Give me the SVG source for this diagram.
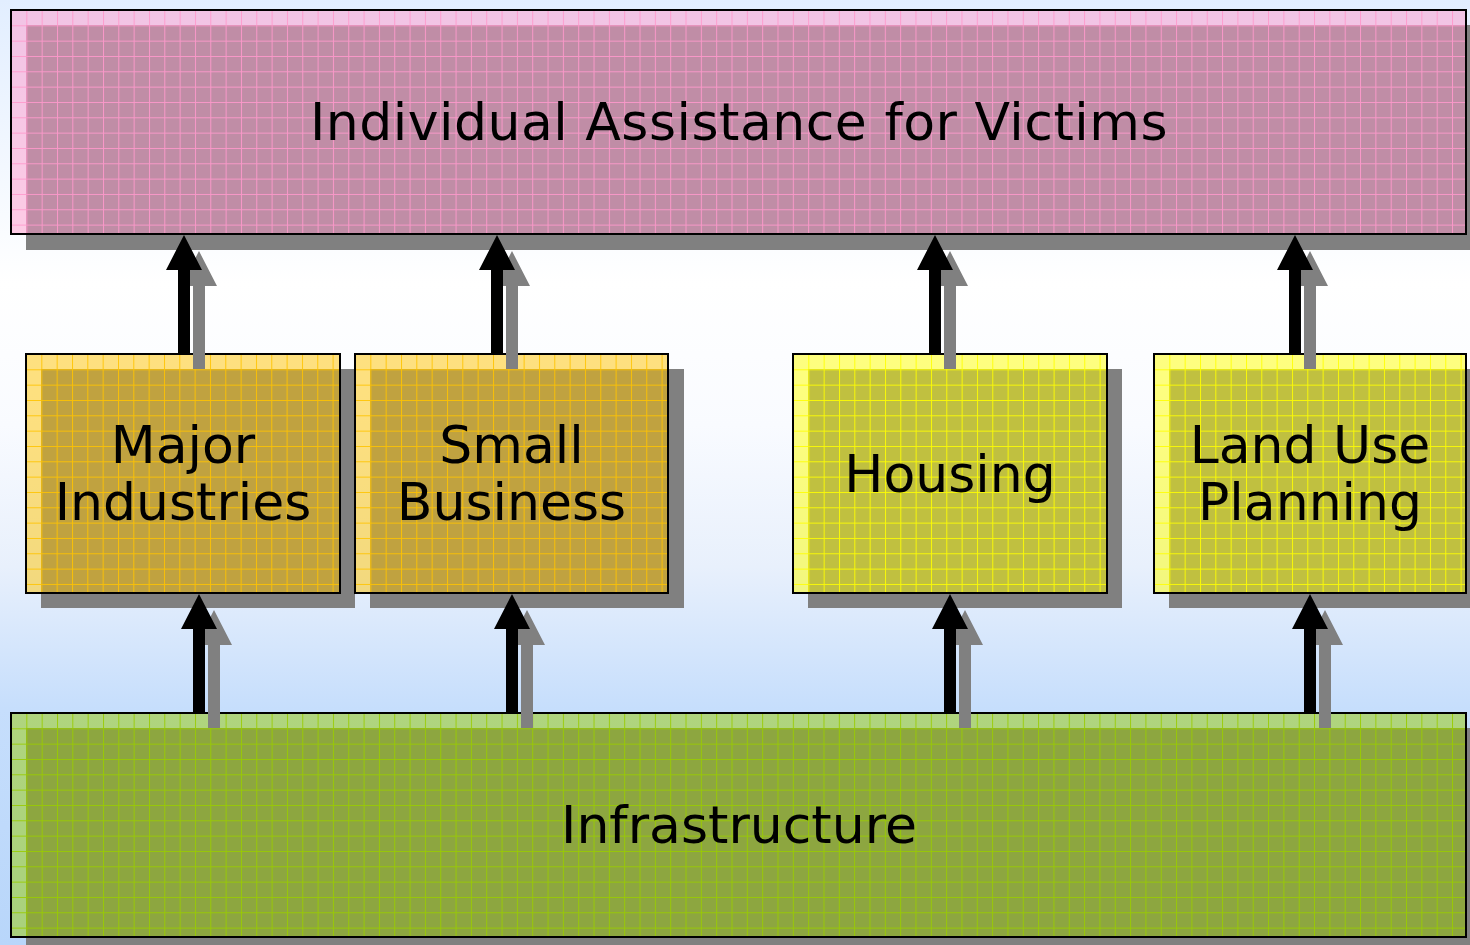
<svg xmlns="http://www.w3.org/2000/svg" width="1470" height="945" viewBox="0 0 1470 945">
<defs>
<linearGradient id="bg" x1="0" y1="0" x2="0" y2="945" gradientUnits="userSpaceOnUse">
<stop offset="0" stop-color="#e2eeff"/>
<stop offset="0.3" stop-color="#ffffff"/>
<stop offset="0.45" stop-color="#f9fbff"/>
<stop offset="0.6" stop-color="#e8f0fc"/>
<stop offset="0.75" stop-color="#c6defc"/>
<stop offset="1" stop-color="#b8d6fa"/>
</linearGradient>
<pattern id="gPink" patternUnits="userSpaceOnUse" x="11" y="10" width="15.33" height="15.33"><path d="M0.5 0V15.33M0 0.5H15.33" stroke="#ff99cc" stroke-width="1" fill="none" opacity="0.9"/></pattern>
<pattern id="gGold1" patternUnits="userSpaceOnUse" x="26" y="354" width="15.33" height="15.33"><path d="M0.5 0V15.33M0 0.5H15.33" stroke="#ffc400" stroke-width="1" fill="none" opacity="0.9"/></pattern>
<pattern id="gGold2" patternUnits="userSpaceOnUse" x="355" y="354" width="15.33" height="15.33"><path d="M0.5 0V15.33M0 0.5H15.33" stroke="#ffc400" stroke-width="1" fill="none" opacity="0.9"/></pattern>
<pattern id="gYel1" patternUnits="userSpaceOnUse" x="793" y="354" width="15.33" height="15.33"><path d="M0.5 0V15.33M0 0.5H15.33" stroke="#ffff00" stroke-width="1" fill="none" opacity="0.9"/></pattern>
<pattern id="gYel2" patternUnits="userSpaceOnUse" x="1154" y="354" width="15.33" height="15.33"><path d="M0.5 0V15.33M0 0.5H15.33" stroke="#ffff00" stroke-width="1" fill="none" opacity="0.9"/></pattern>
<pattern id="gGreen" patternUnits="userSpaceOnUse" x="11" y="713" width="15.33" height="15.33"><path d="M0.5 0V15.33M0 0.5H15.33" stroke="#99cc00" stroke-width="1" fill="none" opacity="0.9"/></pattern>
</defs>
<style>
.shadow{fill:#808080}
.fill{fill-opacity:0.5}
.border{fill:none;stroke:#000;stroke-width:2}
.label{font-family:"DejaVu Sans",Verdana,sans-serif;font-size:52px;fill:#000;text-anchor:middle}
.arrow{fill:#000}
.ashadow{fill:#808080}
</style>
<rect x="0" y="0" width="1470" height="945" fill="url(#bg)"/>

<g id="shadows">
<rect class="shadow" x="26" y="25" width="1456" height="225"/>
<rect class="shadow" x="41" y="369" width="314" height="239"/>
<rect class="shadow" x="370" y="369" width="314" height="239"/>
<rect class="shadow" x="808" y="369" width="314" height="239"/>
<rect class="shadow" x="1169" y="369" width="314" height="239"/>
<rect class="shadow" x="26" y="728" width="1456" height="225"/>
</g>

<g id="node-victims">
<rect class="fill" x="11" y="10" width="1455" height="224" fill="#ff99cc"/>
<rect x="11" y="10" width="1455" height="224" fill="url(#gPink)"/>
<rect class="border" x="11" y="10" width="1455" height="224"/>
</g>
<g id="node-major">
<rect class="fill" x="26" y="354" width="314" height="239" fill="#ffc400"/>
<rect x="26" y="354" width="314" height="239" fill="url(#gGold1)"/>
<rect class="border" x="26" y="354" width="314" height="239"/>
</g>
<g id="node-small">
<rect class="fill" x="355" y="354" width="313" height="239" fill="#ffc400"/>
<rect x="355" y="354" width="313" height="239" fill="url(#gGold2)"/>
<rect class="border" x="355" y="354" width="313" height="239"/>
</g>
<g id="node-housing">
<rect class="fill" x="793" y="354" width="314" height="239" fill="#ffff00"/>
<rect x="793" y="354" width="314" height="239" fill="url(#gYel1)"/>
<rect class="border" x="793" y="354" width="314" height="239"/>
</g>
<g id="node-landuse">
<rect class="fill" x="1154" y="354" width="312" height="239" fill="#ffff00"/>
<rect x="1154" y="354" width="312" height="239" fill="url(#gYel2)"/>
<rect class="border" x="1154" y="354" width="312" height="239"/>
</g>
<g id="node-infra">
<rect class="fill" x="11" y="713" width="1455" height="224" fill="#99cc00"/>
<rect x="11" y="713" width="1455" height="224" fill="url(#gGreen)"/>
<rect class="border" x="11" y="713" width="1455" height="224"/>
</g>

<g id="connectors">
<g class="ashadow">
<polygon points="199,251 217,286 205,286 205,369 193,369 193,286 181,286"/>
<polygon points="512,251 530,286 518,286 518,369 506,369 506,286 494,286"/>
<polygon points="950,251 968,286 956,286 956,369 944,369 944,286 932,286"/>
<polygon points="1310,251 1328,286 1316,286 1316,369 1304,369 1304,286 1292,286"/>
<polygon points="214,610 232,645 220,645 220,728 208,728 208,645 196,645"/>
<polygon points="527,610 545,645 533,645 533,728 521,728 521,645 509,645"/>
<polygon points="965,610 983,645 971,645 971,728 959,728 959,645 947,645"/>
<polygon points="1325,610 1343,645 1331,645 1331,728 1319,728 1319,645 1307,645"/>
</g>
<g class="arrow">
<polygon points="184,235 202,270 190,270 190,354 178,354 178,270 166,270"/>
<polygon points="497,235 515,270 503,270 503,354 491,354 491,270 479,270"/>
<polygon points="935,235 953,270 941,270 941,354 929,354 929,270 917,270"/>
<polygon points="1295,235 1313,270 1301,270 1301,354 1289,354 1289,270 1277,270"/>
<polygon points="199,594 217,629 205,629 205,713 193,713 193,629 181,629"/>
<polygon points="512,594 530,629 518,629 518,713 506,713 506,629 494,629"/>
<polygon points="950,594 968,629 956,629 956,713 944,713 944,629 932,629"/>
<polygon points="1310,594 1328,629 1316,629 1316,713 1304,713 1304,629 1292,629"/>
</g>
</g>

<g id="labels">
<text class="label" x="739" y="140" style="letter-spacing:0.5px">Individual Assistance for Victims</text>
<text class="label" x="183" y="463">Major</text>
<text class="label" x="183" y="520">Industries</text>
<text class="label" x="511.5" y="463">Small</text>
<text class="label" x="511.5" y="520">Business</text>
<text class="label" x="950" y="492">Housing</text>
<text class="label" x="1310" y="463">Land Use</text>
<text class="label" x="1310" y="520">Planning</text>
<text class="label" x="739" y="843">Infrastructure</text>
</g>
</svg>
